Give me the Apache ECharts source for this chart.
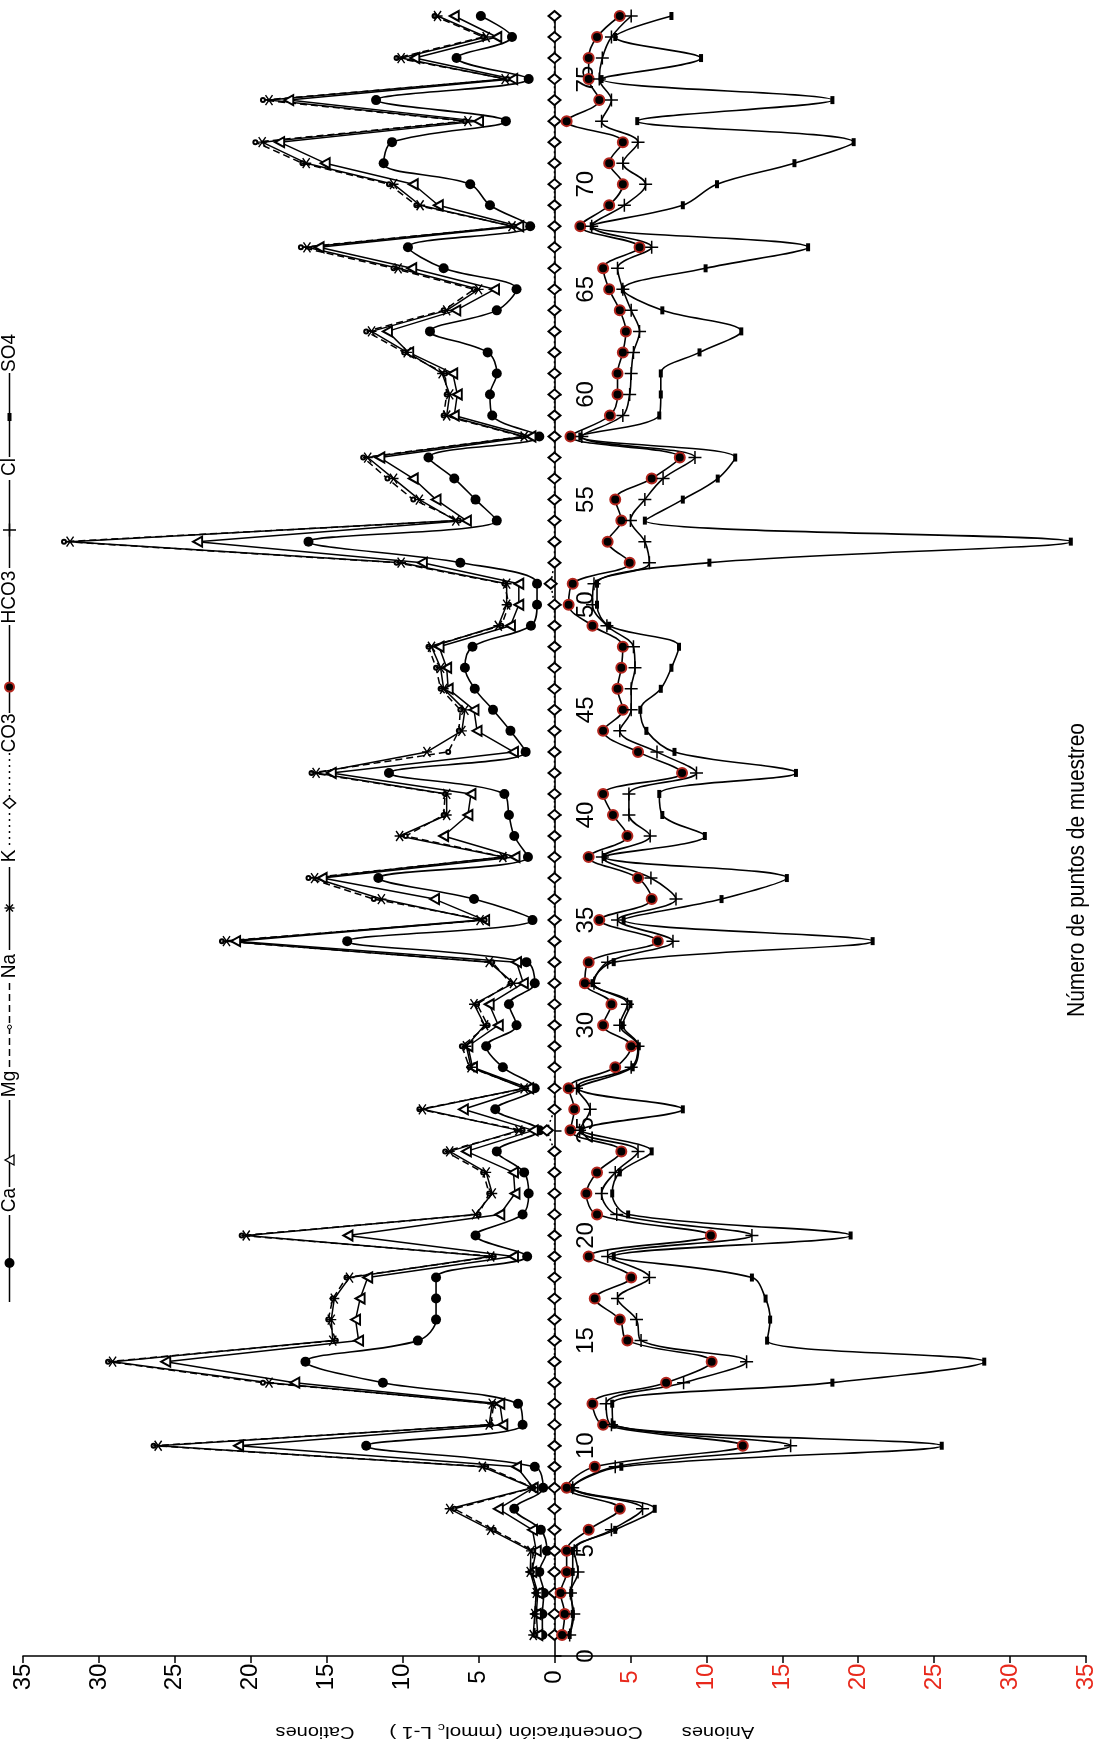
<!DOCTYPE html>
<html>
<head>
<meta charset="utf-8">
<script src="https://cdn.jsdelivr.net/npm/echarts@6/dist/echarts.min.js"></script>
<style>
html,body{margin:0;padding:0;background:#fff;}
#c{width:1094px;height:1753px;}
</style>
</head>
<body>
<div id="c"></div>
<script>
// sample points (número de punto de muestreo)
const samples = [1,2,3,4,5,6,7,8,9,10,11,12,13,14,15,16,17,18,19,20,21,22,23,24,25,26,27,28,29,30,31,32,33,34,35,36,37,38,39,40,41,42,43,44,45,46,47,48,49,50,51,52,53,54,55,56,57,58,59,60,61,62,63,64,65,66,67,68,69,70,71,72,73,74,75,76,77,78];

// cations (mmolc L-1)
const Ca = [0.8,0.8,0.7,1.0,0.5,0.9,2.65,0.75,1.3,12.4,2.1,2.4,11.3,16.4,9.0,7.8,7.8,7.8,1.8,5.2,2.1,1.7,2.0,3.8,1.0,3.9,1.3,3.4,4.5,2.5,3.0,1.3,1.85,13.65,1.45,5.3,11.6,1.75,2.65,3.0,3.3,10.9,1.9,2.9,4.05,5.25,5.9,5.4,1.55,1.15,1.15,6.2,16.2,3.8,5.2,6.6,8.3,1.0,4.1,4.25,3.8,4.4,8.2,3.8,2.5,7.3,9.65,1.6,4.25,5.55,11.25,10.7,3.2,11.75,1.7,6.45,2.8,4.85];
const Mg = [1.1,1.2,1.1,1.5,1.2,1.45,3.7,1.4,2.5,20.8,3.4,3.6,17.1,25.6,12.9,13.1,12.8,12.3,2.7,13.6,3.6,2.6,2.7,5.8,1.4,6.0,1.7,5.4,5.7,3.7,4.3,2.05,2.5,21.0,4.6,7.9,15.3,2.6,7.3,5.7,5.5,14.7,2.7,5.1,5.3,7.0,7.1,7.6,2.9,2.35,2.35,8.7,23.5,5.8,7.8,9.3,11.5,1.55,6.6,6.4,6.7,9.6,11.0,6.5,3.95,9.4,15.5,2.35,7.65,9.3,15.1,18.1,5.0,17.5,2.75,9.2,3.8,6.6];
const Na = [1.3,1.3,1.2,1.5,1.4,4.0,6.6,1.4,4.5,26.4,4.2,4.0,19.2,29.4,14.4,14.9,14.6,13.7,4.0,20.6,5.0,4.3,4.7,7.2,2.1,8.9,1.9,5.6,6.1,4.4,5.1,2.9,4.1,21.9,4.6,11.9,16.2,3.3,9.8,7.3,7.2,16.0,7.0,6.3,6.2,7.5,7.8,8.3,3.5,3.0,3.3,10.4,32.3,6.3,9.3,11.0,12.6,2.1,7.3,7.1,7.2,9.9,12.4,7.3,5.3,10.6,16.7,2.7,9.1,10.9,16.6,19.7,5.9,19.2,3.1,10.4,4.7,7.9];
const K = [1.4,1.3,1.2,1.6,1.55,4.2,6.9,1.45,4.75,26.1,4.3,4.1,18.8,29.1,14.6,14.7,14.5,13.5,4.2,20.3,5.2,4.1,4.5,6.9,2.35,8.7,2.0,5.5,5.8,4.6,5.3,2.7,4.3,21.6,4.9,11.4,15.8,3.4,10.2,7.1,7.1,15.7,8.4,6.1,5.9,7.3,7.5,8.1,3.7,3.15,3.15,10.1,31.9,6.5,8.9,10.6,12.3,2.0,7.1,6.9,7.4,9.7,12.05,7.1,5.0,10.3,16.3,2.8,8.85,10.6,16.35,19.25,5.7,18.8,3.25,10.1,4.5,7.7];

// anions (mmolc L-1)
const CO3 = [0,0,0,0,0,0,0,0,0,0,0,0,0,0,0,0,0,0,0,0,0,0,0,0,-0.5,0,0,0,0,0,0,0,0,0,0,0,0,0,0,0,0,0,0,0,0,0,0,0,0,0,-0.25,0,0,0,0,0,0,0,0,0,0,0,0,0,0,0,0,0,0,0,0,0,0,0,0,0,0,0];
const HCO3 = [0.5,0.67,0.4,0.8,0.8,2.25,4.3,0.8,2.65,12.4,3.2,2.5,7.35,10.35,4.8,4.3,2.65,5.05,2.25,10.3,2.8,2.1,2.8,4.4,1.05,1.3,0.93,4.0,5.05,3.2,3.75,2.0,2.25,6.8,2.95,6.4,5.5,2.25,4.8,3.85,3.2,8.4,5.5,3.2,4.5,4.15,4.4,4.5,2.5,0.93,1.2,4.95,3.5,4.4,4.0,6.4,8.25,1.05,3.65,4.15,4.15,4.5,4.7,4.3,3.6,3.2,5.6,1.7,3.6,4.5,3.6,4.5,0.8,2.95,2.25,2.25,2.8,4.3];
const Cl = [1.0,1.27,1.05,1.55,1.3,3.75,5.8,1.2,4.0,15.55,3.75,3.4,8.5,12.65,5.7,5.4,4.15,6.25,3.5,13.0,4.1,3.1,4.0,5.5,1.65,2.35,1.45,5.05,5.5,4.3,4.8,2.6,3.5,7.8,4.15,8.0,6.35,3.15,6.3,4.9,4.9,9.35,6.75,4.3,5.05,5.05,5.3,5.2,3.45,2.5,2.6,6.25,5.95,5.0,5.95,7.15,9.25,1.8,4.5,4.95,5.05,5.2,5.6,5.05,4.5,4.15,6.4,2.45,4.6,6.0,4.5,5.5,3.1,3.75,2.95,3.15,3.75,5.05];
const SO4 = [1.0,1.2,1.1,1.2,1.2,4.0,6.6,1.2,4.4,25.5,3.9,3.8,18.3,28.3,14.0,14.2,13.9,13.0,3.9,19.5,4.85,3.8,4.3,6.4,1.8,8.45,1.55,5.15,5.55,4.5,5.0,2.5,3.9,20.95,4.55,11.0,15.3,3.3,9.9,7.1,6.9,15.9,7.9,6.05,5.65,7.0,7.7,8.2,3.6,2.8,2.8,10.2,34.0,5.95,8.45,10.75,11.9,1.7,6.9,7.0,7.0,9.55,12.3,7.1,4.5,9.95,16.7,2.45,8.45,10.7,15.8,19.7,5.45,18.3,3.1,9.65,4.0,7.7];

// legend labels
const legendNames = ['Ca','Mg','Na','K','CO3','HCO3','Cl','SO4'];
// axis texts
const xTitleA = 'Aniones';
const xTitleMid = '{a|Concentración (mmol}{s|c}{a| L-1 )}';
const xTitleC = 'Cationes';
const yTitle = 'Número de puntos de muestreo';

const RED = '#e8291c';
const HRED = '#b3261e';
const ASTER = 'path://M0,5 L10,5 M1.5,1.5 L8.5,8.5 M8.5,1.5 L1.5,8.5';
const PLUS = 'path://M5,0 L5,10 M0,5 L10,5';

function cat(vals){ return vals.map((v,i)=>[v, samples[i]]); }
function an(vals){ return vals.map((v,i)=>[-v, samples[i]]); }

const chart = echarts.init(document.getElementById('c'), null, {renderer:'canvas'});

const series = [
  {name:'Ca', type:'line', data:cat(Ca), smooth:0.35, symbol:'circle', symbolSize:10,
   lineStyle:{color:'#000', width:1.6}, itemStyle:{color:'#000'}},
  {name:'Mg', type:'line', data:cat(Mg), symbol:'emptyTriangle', symbolRotate:90, symbolSize:[10,9],
   lineStyle:{color:'#000', width:1.5}, itemStyle:{color:'#000', borderWidth:1.3}},
  {name:'Na', type:'line', data:cat(Na), symbol:'emptyCircle', symbolSize:4,
   lineStyle:{color:'#000', width:1.5, type:[7,4]}, itemStyle:{color:'#000', borderWidth:1}},
  {name:'K', type:'line', data:cat(K), symbol:ASTER, symbolSize:10,
   lineStyle:{color:'#000', width:1.5}, itemStyle:{color:'#000', borderColor:'#000', borderWidth:1.4}},
  {name:'CO3', type:'line', data:an(CO3), symbol:'emptyDiamond', symbolSize:[12,10],
   lineStyle:{color:'#000', width:1.5, type:[2,3]}, itemStyle:{color:'#000', borderWidth:1.5}},
  {name:'HCO3', type:'line', data:an(HCO3), smooth:0.35, symbol:'circle', symbolSize:10,
   lineStyle:{color:'#000', width:1.6}, itemStyle:{color:'#000', borderColor:HRED, borderWidth:2}},
  {name:'Cl', type:'line', data:an(Cl), smooth:0.35, symbol:PLUS, symbolSize:13,
   lineStyle:{color:'#000', width:1.6}, itemStyle:{color:'#000', borderColor:'#000', borderWidth:1.5}},
  {name:'SO4', type:'line', data:an(SO4), smooth:0.35, symbol:'rect', symbolSize:[4,8],
   lineStyle:{color:'#000', width:1.6}, itemStyle:{color:'#000'}}
];
series.forEach(s=>{ s.animation=false; s.clip=false; s.z = 3; });

// legend graphics (vertical, rotated)
const LX = 9.5;
const legendLayout = [
  {line:[1215,1302], mark:1263, text:1200},
  {line:[1100,1187], mark:1160, text:1084},
  {line:[983,1068], mark:1027, text:966},
  {line:[867,950], mark:908, text:856},
  {line:[753,845], mark:803, text:733},
  {line:[625,713], mark:687, text:597},
  {line:[480,568], mark:530, text:467},
  {line:[373,457], mark:417, text:353}
];
const g = [];
legendLayout.forEach((L,i)=>{
  const nm = legendNames[i];
  let dash = null;
  if (nm==='Na') dash=[7,4];
  if (nm==='CO3') dash=[2,4];
  g.push({type:'line', shape:{x1:LX,y1:L.line[0],x2:LX,y2:L.line[1]},
          style:{stroke:'#000', lineWidth:1.5, lineDash:dash}});
  const m = L.mark;
  if (nm==='Ca') g.push({type:'circle', shape:{cx:LX,cy:m,r:5}, style:{fill:'#000'}});
  if (nm==='Mg') g.push({type:'polygon', shape:{points:[[LX-4.5,m],[LX+4.5,m-5],[LX+4.5,m+5]]}, style:{fill:'#fff',stroke:'#000',lineWidth:1.3}});
  if (nm==='Na') g.push({type:'circle', shape:{cx:LX,cy:m,r:2}, style:{fill:'#fff',stroke:'#000',lineWidth:1}});
  if (nm==='K') {
    g.push({type:'line', shape:{x1:LX-5,y1:m,x2:LX+5,y2:m}, style:{stroke:'#000',lineWidth:1.4}});
    g.push({type:'line', shape:{x1:LX-3.5,y1:m-3.5,x2:LX+3.5,y2:m+3.5}, style:{stroke:'#000',lineWidth:1.4}});
    g.push({type:'line', shape:{x1:LX+3.5,y1:m-3.5,x2:LX-3.5,y2:m+3.5}, style:{stroke:'#000',lineWidth:1.4}});
  }
  if (nm==='CO3') g.push({type:'polygon', shape:{points:[[LX-6,m],[LX,m-5],[LX+6,m],[LX,m+5]]}, style:{fill:'#fff',stroke:'#000',lineWidth:1.5}});
  if (nm==='HCO3') g.push({type:'circle', shape:{cx:LX,cy:m,r:4.5}, style:{fill:'#000',stroke:HRED,lineWidth:2}});
  if (nm==='Cl') {
    g.push({type:'line', shape:{x1:LX-6.5,y1:m,x2:LX+6.5,y2:m}, style:{stroke:'#000',lineWidth:1.5}});
    g.push({type:'line', shape:{x1:LX,y1:m-6.5,x2:LX,y2:m+6.5}, style:{stroke:'#000',lineWidth:1.5}});
  }
  if (nm==='SO4') g.push({type:'rect', shape:{x:LX-2,y:m-4,width:4,height:8}, style:{fill:'#000'}});
  g.push({type:'text', x:9, y:L.text, rotation:Math.PI/2, scaleX:1, scaleY:1.1,
          style:{text:nm, fontSize:19, fontFamily:'Liberation Sans, Arial, sans-serif', fill:'#000',
                 align:'center', verticalAlign:'middle', textAlign:'center', textVerticalAlign:'middle'}});
});

// x-axis title (upside down)
const tFont = 'Liberation Sans, Arial, sans-serif';
g.push({type:'text', x:718, y:1731, rotation:Math.PI, scaleX:1.25, scaleY:1,
        style:{text:xTitleA, fontSize:16, fontFamily:tFont, fill:'#000',
               align:'center', verticalAlign:'middle', textAlign:'center', textVerticalAlign:'middle'}});
g.push({type:'text', x:516, y:1731, rotation:Math.PI, scaleX:1.3, scaleY:1,
        style:{text:xTitleMid, fill:'#000', fontFamily:tFont, fontSize:16,
               align:'center', verticalAlign:'middle', textAlign:'center', textVerticalAlign:'middle',
               rich:{a:{fontSize:16, fontFamily:tFont, fill:'#000', verticalAlign:'middle', lineHeight:18},
                     s:{fontSize:11, fontFamily:tFont, fill:'#000', verticalAlign:'bottom', lineHeight:12}}}});
g.push({type:'text', x:315, y:1731, rotation:Math.PI, scaleX:1.25, scaleY:1,
        style:{text:xTitleC, fontSize:16, fontFamily:tFont, fill:'#000',
               align:'center', verticalAlign:'middle', textAlign:'center', textVerticalAlign:'middle'}});
// y-axis (sample) title
g.push({type:'text', x:1077, y:870, rotation:Math.PI/2, scaleX:0.95, scaleY:1.1,
        style:{text:yTitle, fontSize:22, fontFamily:tFont, fill:'#000',
               align:'center', verticalAlign:'middle', textAlign:'center', textVerticalAlign:'middle'}});

const labelFont = "'Liberation Sans Narrow', 'Arial Narrow', 'Liberation Sans', sans-serif";
const GL = 23, GR = 8, ZERO_X = 554.5;

chart.setOption({
  backgroundColor:'#fff',
  animation:false,
  grid:{left:GL, right:GR, top:16, bottom:97, containLabel:false, outerBoundsMode:'none'},
  xAxis:{
    type:'value', min:-35, max:35, interval:5, inverse:true,
    axisLine:{show:true, onZero:false, lineStyle:{color:'#000', width:1.6}},
    axisTick:{show:true, length:7, lineStyle:{color:'#000', width:1.5}},
    splitLine:{show:false},
    axisLabel:{rotate:90, margin:21, align:'center', verticalAlign:'middle',
      fontSize:24, fontFamily:labelFont,
      formatter:v=>String(Math.abs(v)),
      color:(v)=> Number(v) < 0 ? RED : '#000'}
  },
  yAxis:{
    type:'value', min:0, max:78, interval:5, position:'left', offset:-(ZERO_X-GL),
    axisLine:{show:true, onZero:false, lineStyle:{color:'#000', width:1.6}},
    axisTick:{show:true, inside:true, length:7, lineStyle:{color:'#000', width:1.5}},
    splitLine:{show:false},
    axisLabel:{inside:true, rotate:90, margin:32, align:'center', verticalAlign:'middle',
      showMaxLabel:false, fontSize:24, fontFamily:labelFont, color:'#000',
      formatter:v=> (Number(v)%5===0 ? String(v) : '')}
  },
  series: series,
  graphic: g
});
</script>
</body>
</html>
